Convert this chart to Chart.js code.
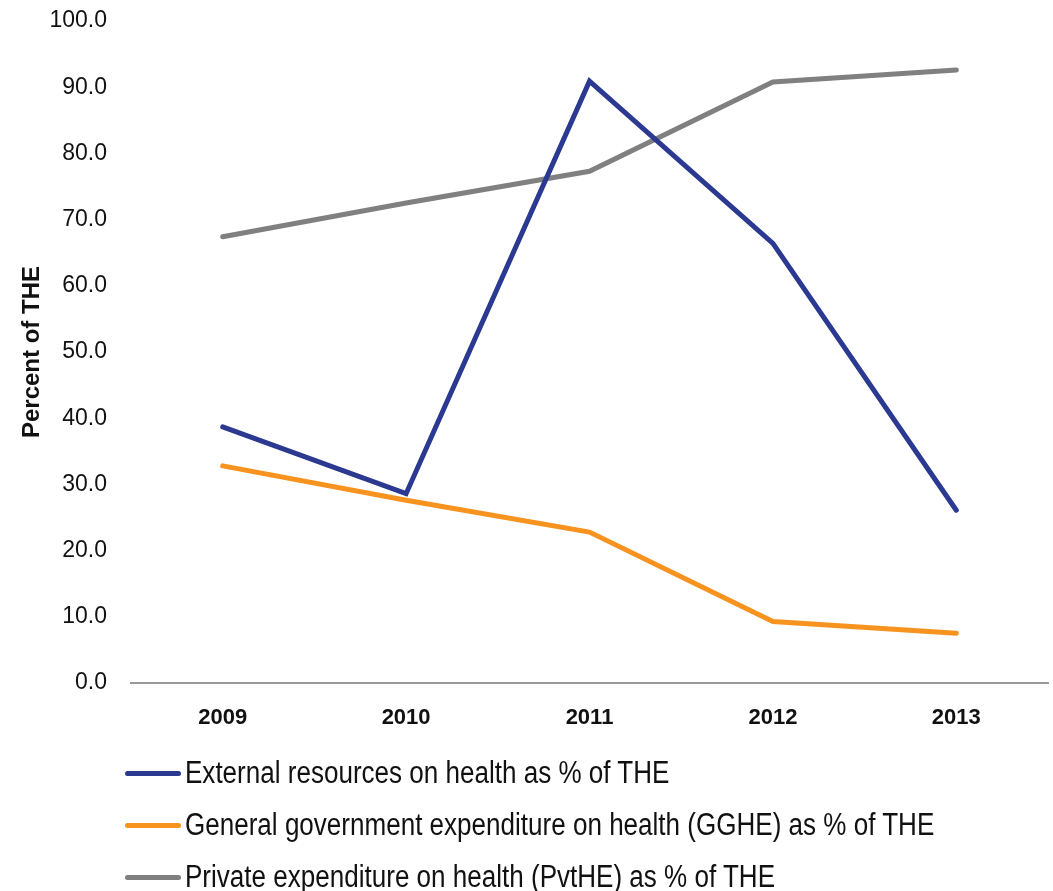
<!DOCTYPE html>
<html>
<head>
<meta charset="utf-8">
<script src="https://cdn.jsdelivr.net/npm/chart.js@4.4.1/dist/chart.umd.min.js"></script>
<style>
  html, body { margin: 0; padding: 0; background: #fff; }
  #wrap { position: relative; width: 1053px; height: 891px; overflow: hidden; }
  #legend { position: absolute; left: 125px; top: 747px; font-family: "Liberation Sans", Arial, sans-serif; font-size: 31px; color: #111; }
  .item { display: flex; align-items: center; height: 52px; white-space: nowrap; }
  .swatch { width: 56px; height: 5px; border-radius: 3px; margin-right: 4px; flex: none; }
  .txt { display: inline-block; transform: scaleX(0.84); transform-origin: left center; }
</style>
</head>
<body>
<div id="wrap">
  <canvas id="chart" width="1053" height="891"></canvas>
  <div id="legend"></div>
</div>
<script>
const years = ['2009', '2010', '2011', '2012', '2013'];
const externalShare = [38.7, 28.6, 90.9, 66.4, 26.1];
const govShare = [32.8, 27.6, 22.8, 9.3, 7.5];
const privateShare = [67.4, 72.5, 77.3, 90.8, 92.6];
const yTicks = [0, 10, 20, 30, 40, 50, 60, 70, 80, 90, 100];

const FONT = '"Liberation Sans", Arial, sans-serif';

const series = [
  { label: 'External resources on health as % of THE', data: externalShare, color: '#2B3990' },
  { label: 'General government expenditure on health (GGHE) as % of THE', data: govShare, color: '#F7931E' },
  { label: 'Private expenditure on health (PvtHE) as % of THE', data: privateShare, color: '#808080' }
];

const chart = new Chart(document.getElementById('chart'), {
  type: 'line',
  data: {
    labels: years,
    datasets: series.map(s => ({
      label: s.label,
      data: s.data,
      borderColor: s.color,
      backgroundColor: s.color,
      borderWidth: 5,
      pointRadius: 0,
      tension: 0,
      borderCapStyle: 'round'
    }))
  },
  options: {
    responsive: false,
    animation: false,
    layout: { padding: { top: 21, right: 5, left: 0, bottom: 0 } },
    plugins: { legend: { display: false }, tooltip: { enabled: false } },
    scales: {
      x: {
        offset: true,
        grid: { display: false },
        border: { display: true, color: '#999', width: 2 },
        ticks: { color: '#111', font: { family: FONT, size: 22, weight: 'bold' }, padding: 14 },
        afterFit: s => { s.height = 208; }
      },
      y: {
        min: 0,
        max: 100,
        afterBuildTicks: s => { s.ticks = yTicks.map(v => ({ value: v })); },
        grid: { display: false },
        border: { display: false },
        ticks: {
          color: '#111',
          font: { family: FONT, size: 23 },
          padding: 16,
          callback: v => v.toFixed(1)
        },
        title: {
          display: true,
          text: 'Percent of THE',
          color: '#111',
          font: { family: FONT, size: 24, weight: 'bold' },
          padding: { top: 18, bottom: 0 }
        },
        afterFit: s => { s.width = 131; s.paddingTop = 0; s.paddingBottom = 0; }
      }
    }
  }
});

const legend = document.getElementById('legend');
series.forEach(s => {
  const row = document.createElement('div');
  row.className = 'item';
  const sw = document.createElement('span');
  sw.className = 'swatch';
  sw.style.background = s.color;
  const txt = document.createElement('span');
  txt.className = 'txt';
  txt.textContent = s.label;
  row.appendChild(sw);
  row.appendChild(txt);
  legend.appendChild(row);
});
</script>
</body>
</html>
